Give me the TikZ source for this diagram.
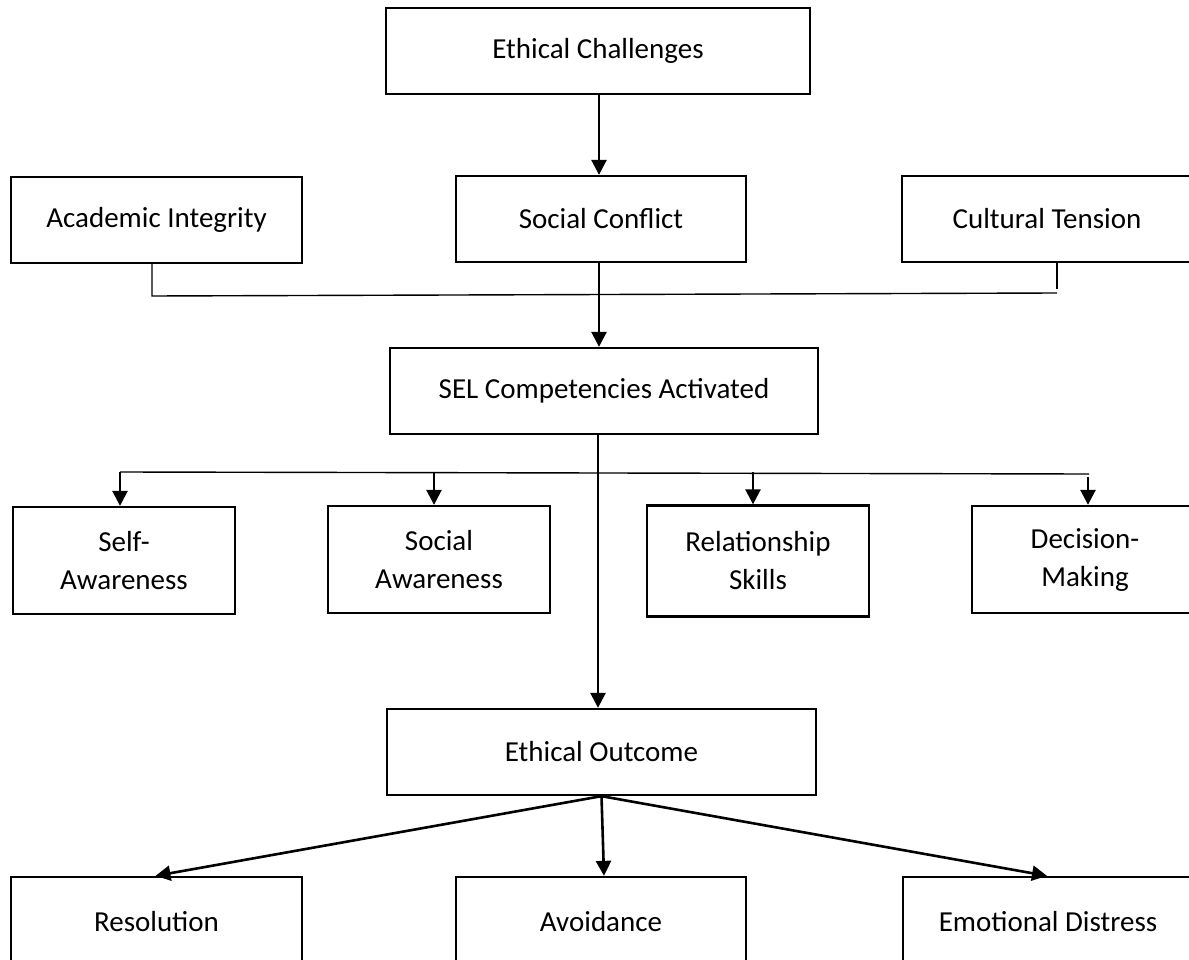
\documentclass[tikz,border=0pt]{standalone}
\usepackage{fontspec}
\setmainfont{Carlito}
\usetikzlibrary{arrows.meta}
\begin{document}
\begin{tikzpicture}[x=1pt,y=-1pt,
  box/.style={draw=black,line width=2.3pt,rectangle,inner sep=0pt,align=center,
    font=\fontsize{29}{38}\selectfont,text=black},
  arr/.style={line width=2.6pt,-{Triangle[length=15pt,width=15pt]}},
  thinline/.style={line width=1.4pt}]
\useasboundingbox (0,0) rectangle (1189,960);
\clip (0,0) rectangle (1189,960);
\fill[white] (0,0) rectangle (1189,960);
% boxes
\node[box,minimum width=424pt,minimum height=86pt] (ec) at (598,51) {Ethical Challenges};
\node[box,minimum width=291pt,minimum height=86pt] (ai) at (156.5,220) {Academic Integrity};
\node[box,minimum width=290pt,minimum height=86pt] (sc) at (601,219) {Social Conflict};
\node[box,minimum width=290pt,minimum height=86pt] (ct) at (1047,219) {Cultural Tension};
\node[box,minimum width=428pt,minimum height=86pt] (sel) at (604,391) {SEL Competencies Activated};
\node[box,minimum width=222pt,minimum height=107pt] (sa) at (124,560.5) {Self-\\Awareness};
\node[box,minimum width=222pt,minimum height=107pt] (soa) at (439,559.5) {Social\\Awareness};
\node[box,minimum width=222pt,minimum height=111pt] (rs) at (758,561) {Relationship\\Skills};
\node[box,minimum width=226pt,minimum height=107pt] (dm) at (1085,559.5) {\strut Decision-\\\strut Making};
\node[box,minimum width=429pt,minimum height=86pt] (eo) at (601.5,752) {Ethical Outcome};
\node[box,minimum width=291pt,minimum height=90pt] (res) at (156.5,922) {Resolution};
\node[box,minimum width=290pt,minimum height=90pt] (av) at (601,922) {Avoidance};
\node[box,minimum width=290pt,minimum height=90pt] (ed) at (1048,922) {Emotional Distress};
% top connectors
\draw[arr] ([xshift=1pt]ec.south) -- ([xshift=1pt]ec.south |- sc.north);
\coordinate (j1) at (152,296);
\coordinate (j2) at (1057,293);
\draw[thinline] (ai.south -| j1) -- (j1) -- (j2);
\draw[thinline] (ct.south -| j2) -- ([yshift=4pt]j2);
\draw[arr] ([xshift=-2pt]sc.south) -- ([xshift=-2pt]sc.south |- sel.north);
% SEL to outcome
\draw[arr] ([xshift=-6pt]sel.south) -- ([xshift=-6pt]sel.south |- eo.north);
% branch line
\coordinate (bl) at (120,472);
\coordinate (br) at (1089,474);
\draw[thinline] (bl) -- (br);
\draw[arr] ([xshift=-4pt]sa.north |- bl) -- ([xshift=-4pt]sa.north);
\draw[arr] ([xshift=-5pt]soa.north |- bl) -- ([xshift=-5pt]soa.north);
\draw[arr] ([xshift=-5pt]rs.north |- bl) -- ([xshift=-5pt]rs.north);
\draw[arr] ([xshift=3pt,yshift=-3pt]dm.north |- br) -- ([xshift=3pt]dm.north);
% outcome connectors
\draw[arr] (eo.south) -- ([xshift=-1pt]res.north);
\draw[arr] (eo.south) -- ([xshift=3pt]av.north);
\draw[arr] (eo.south) -- ([xshift=-1pt]ed.north);
\end{tikzpicture}
\end{document}
